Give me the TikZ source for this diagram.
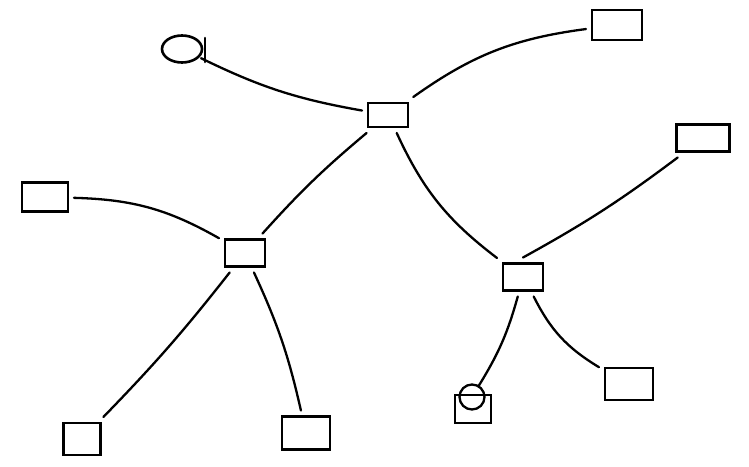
\documentclass[tikz,border=0pt]{standalone}
\usetikzlibrary{shapes.geometric}
\begin{document}
\begin{tikzpicture}[x=1pt,y=-1pt,
  box/.style={draw,line width=2.6pt,minimum width=#1,inner sep=0pt,outer sep=6pt},
  link/.style={line width=2.3pt,line cap=round}]
\useasboundingbox (0,0) rectangle (749,466);
% nodes of the tree
\node[box=40pt,minimum height=24pt] (root) at (388,115) {};
\node[draw,ellipse,line width=2.6pt,minimum width=40pt,minimum height=27pt,inner sep=0pt,outer sep=3pt] (c1) at (182,49) {};
\draw[line width=2.6pt,line cap=round] (c1.east) ++(0,-11) -- ++(0,24);
\node[box=50pt,minimum height=30pt] (t) at (617,25) {};
\node[box=53pt,minimum height=27pt] (rt) at (703,138) {};
\node[box=46pt,minimum height=29pt] (ll) at (45,197) {};
\node[box=40pt,minimum height=27pt] (l) at (245,253) {};
\node[box=40pt,minimum height=27pt] (m) at (523,277) {};
\node[box=37pt,minimum height=32pt] (bl) at (82,439) {};
\node[box=48pt,minimum height=33pt] (bm) at (306,433) {};
\node[box=48pt,minimum height=32pt] (br2) at (629,384) {};
\node[box=36pt,minimum height=28pt] (br1) at (473,409) {};
\node[draw,circle,line width=2.3pt,minimum size=25pt,inner sep=0pt,outer sep=1pt] (br1c) at (472,397) {};
% connectors
\draw[link] (c1) to[bend right=8] (root);
\draw[link] (root) to[bend left=14] (t);
\draw[link] (root) to[bend right=4] (l);
\draw[link] (root) to[bend right=14] (m);
\draw[link] (m.north) to[bend right=4] (rt);
\draw[link] (l) to[bend right=14] (ll);
\draw[link] (l) to[bend left=3] (bl);
\draw[link] (l) to[bend left=6] (bm);
\draw[link] (m) to[bend left=8] (br1c);
\draw[link] (m) to[bend right=16] (br2);
\end{tikzpicture}
\end{document}
